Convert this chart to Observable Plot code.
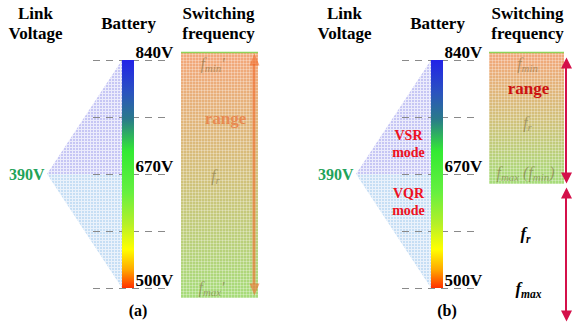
<!DOCTYPE html>
<html>
<head>
<meta charset="utf-8">
<script src="https://cdn.jsdelivr.net/npm/d3@7"></script>
<script src="https://cdn.jsdelivr.net/npm/@observablehq/plot@0.6"></script>
<style>
  body { margin: 0; background: #fff; }
  svg text, svg tspan { font-family: "Liberation Serif", "DejaVu Serif", serif !important; }
</style>
</head>
<body>
<div id="chart"></div>
<script>
// ---- values ---------------------------------------------------------------
const panels = ["(a)", "(b)"];
const headers = ["Link\nVoltage", "Battery", "Switching\nfrequency"];

const batteryMax = 840;            // V
const batteryMid = 670;            // V, boundary between VSR and VQR
const batteryMin = 500;            // V
const linkVoltage = 390;           // V
const gridLevels = [840, 755, 670, 585, 500];
const batteryLabels = [840, 670, 500];
const vsrSpan = [batteryMid, batteryMax];
const vqrSpan = [batteryMin, batteryMid];
const modeLabels = ["VSR\nmode", "VQR\nmode"];

// switching-frequency band (battery voltage it covers) for each panel
const freqTop = [840, 840];
const freqBottom = [500, 670];
const freqLabelsA = ["f_min′", "f_r", "f_max′"];
const freqLabelsB = ["f_min", "f_r", "f_max (f_min)"];
const freqLabelsOut = ["f_r", "f_max"];
const rangeLabel = "range";

// ---- layout (pixels within one panel) ------------------------------------
const L = {
  headerX: [35, 128, 218],
  linkLabelX: 44, apex: 47,
  gridLeft: 93, gridRight: 165,
  barLeft: 122, barRight: 134,
  voltLabelX: 135,
  boxLeft: {"(a)": 181, "(b)": 180},
  boxRight: {"(a)": 258, "(b)": 255},
  arrowX: {"(a)": 254, "(b)": 257},
  captionX: 137.5
};
const serif = "Liberation Serif, DejaVu Serif, serif";
const faint = {fill: "#6d5d2d", fillOpacity: 0.5, fontStyle: "italic", fontSize: 16};

const freqRows = panels.map((panel, i) => ({panel, top: freqTop[i], bottom: freqBottom[i]}));

// filled arrowhead, tip at the origin
const head = (dir, half, len) => ({
  draw(ctx) {
    ctx.moveTo(0, 0);
    ctx.lineTo(half, dir * len);
    ctx.lineTo(-half, dir * len);
    ctx.closePath();
  }
});

// double-headed vertical arrow between two battery levels
function arrow(panel, top, bottom, dyTop, dyBottom, color, opacity, w, half, len) {
  const row = [{panel, top, bottom}];
  const x = L.arrowX[panel];
  return [
    Plot.rect(row, {fx: "panel", x1: x - w / 2, x2: x + w / 2, y1: "bottom", y2: "top",
      insetTop: dyTop + len - 1, insetBottom: len - 1 - dyBottom, fill: color, fillOpacity: opacity}),
    Plot.dot(row, {fx: "panel", x, y: "top", dy: dyTop, r: 5, symbol: head(1, half, len),
      fill: color, fillOpacity: opacity, stroke: "none"}),
    Plot.dot(row, {fx: "panel", x, y: "bottom", dy: dyBottom, r: 5, symbol: head(-1, half, len),
      fill: color, fillOpacity: opacity, stroke: "none"})
  ];
}

// one text annotation inside a given panel
function note(panel, text, level, x, dy, opts) {
  return Plot.text([{panel, text, level}], {fx: "panel", x, y: "level", text: "text", dy,
    lineAnchor: "middle", fontFamily: serif, ...opts});
}

const wedgeX = d => d === batteryMid ? L.apex : L.barLeft;

const chart = Plot.plot({
  width: 573,
  height: 327,
  margin: 0,
  style: {background: "#fff", overflow: "visible"},
  fx: {domain: panels, range: [0, 573], paddingInner: 1 - 264 / 309, paddingOuter: 0, axis: null},
  x: {domain: [0, 264], range: [0, 264], axis: null},
  y: {domain: [batteryMin, batteryMax], range: [288, 60], axis: null},
  marks: [
    // link-voltage wedges fanning out to the battery range
    Plot.areaX(vsrSpan, {y: d => d, x1: wedgeX, x2: L.barLeft, fill: "url(#vsrFill)"}),
    Plot.areaX(vqrSpan, {y: d => d, x1: wedgeX, x2: L.barLeft, fill: "url(#vqrFill)"}),
    // dashed voltage divisions
    Plot.ruleY(gridLevels, {y: d => d, x1: L.gridLeft, x2: L.gridRight, stroke: "#8a8a8a",
      strokeWidth: 1, strokeDasharray: "7,6"}),
    // battery voltage bar
    Plot.rect([[batteryMin, batteryMax]], {x1: L.barLeft, x2: L.barRight, y1: d => d[0], y2: d => d[1],
      fill: "url(#batteryFill)"}),
    // switching-frequency band
    Plot.rect(freqRows, {fx: "panel", x1: d => L.boxLeft[d.panel], x2: d => L.boxRight[d.panel],
      y1: "bottom", y2: "top", insetTop: -8, insetBottom: -10, fill: "url(#freqFill)"}),
    Plot.rect(freqRows, {fx: "panel", x1: d => L.boxLeft[d.panel], x2: d => L.boxRight[d.panel],
      y1: "bottom", y2: "top", insetTop: -8, insetBottom: -10, fill: "url(#grain)"}),
    Plot.ruleY(freqRows, {fx: "panel", y: "top", dy: -8, x1: d => L.boxLeft[d.panel],
      x2: d => L.boxRight[d.panel], stroke: "#8ed45a", strokeWidth: 1.5}),

    // arrows
    ...arrow("(a)", 840, 500, -7, 7, "#f06a2a", 0.6, 3, 5, 12),
    ...arrow("(b)", 840, 670, -3, 9, "#d4104a", 1, 2, 5.5, 11),
    ...arrow("(b)", 670, 500, 13, 33, "#d4104a", 1, 2, 5.5, 11),

    // headers
    Plot.text(headers, {x: (d, i) => L.headerX[i], frameAnchor: "top", dy: 22.5, lineAnchor: "middle",
      lineHeight: 1.18, fontSize: 17, fontWeight: "bold", fontFamily: serif}),
    // battery voltage labels
    Plot.text(batteryLabels, {x: L.voltLabelX, y: d => d, text: d => `${d}V`, textAnchor: "start",
      lineAnchor: "middle", dy: -8, fontSize: 17, fontWeight: "bold", fontFamily: serif}),
    // link voltage label at the battery midpoint
    Plot.text([linkVoltage], {x: L.linkLabelX, y: batteryMid, text: d => `${d}V`, textAnchor: "end",
      lineAnchor: "middle", fontSize: 16, fontWeight: "bold", fill: "#1fa35a", fontFamily: serif}),
    // panel captions
    Plot.text(panels, {fx: d => d, x: L.captionX, frameAnchor: "bottom", dy: -17, lineAnchor: "middle",
      fontSize: 16, fontWeight: "bold", fontFamily: serif}),

    // panel (a) band labels
    note("(a)", freqLabelsA[0], 840, 212, 3, faint),
    note("(a)", freqLabelsA[1], 670, 215, 1, faint),
    note("(a)", freqLabelsA[2], 500, 211, -1, faint),
    note("(a)", rangeLabel, 755, 225, 1, {fill: "#e88a52", fontSize: 17, fontWeight: "bold"}),

    // panel (b) band labels
    note("(b)", freqLabelsB[0], 840, 218, 3, faint),
    note("(b)", freqLabelsB[1], 755, 218, 5, faint),
    note("(b)", freqLabelsB[2], 670, 216, -2, faint),
    note("(b)", rangeLabel, 840, 219, 28, {fill: "#cc1111", fontSize: 17, fontWeight: "bold"}),
    note("(b)", freqLabelsOut[0], 585, 216, 2, {fontSize: 17, fontWeight: "bold", fontStyle: "italic"}),
    note("(b)", freqLabelsOut[1], 500, 219, 0, {fontSize: 17, fontWeight: "bold", fontStyle: "italic"}),

    // operating modes
    note("(b)", modeLabels[0], 670, 99, -31, {fill: "#ee1122", fontSize: 14, fontWeight: "bold", lineHeight: 1.2}),
    note("(b)", modeLabels[1], 670, 99, 27, {fill: "#ee1122", fontSize: 14, fontWeight: "bold", lineHeight: 1.2})
  ]
});

document.getElementById("chart").append(chart);

// ---- gradients and fill patterns -----------------------------------------
const svgNode = chart.tagName.toLowerCase() === "svg" ? chart : chart.querySelector("svg");
const svg = d3.select(svgNode);
const defs = svg.insert("defs", ":first-child");

function vGradient(id, stops) {
  const g = defs.append("linearGradient").attr("id", id)
    .attr("x1", 0).attr("y1", 0).attr("x2", 0).attr("y2", 1);
  for (const [o, c] of stops) g.append("stop").attr("offset", o).attr("stop-color", c);
}
vGradient("batteryFill", [
  [0, "#2222e8"], [0.14, "#2a52c0"], [0.26, "#2a7a8a"], [0.4, "#33ea33"],
  [0.58, "#66f040"], [0.72, "#b6f028"], [0.83, "#ffff00"], [0.92, "#ffa800"], [1, "#ff3000"]
]);
vGradient("freqFill", [[0, "#f4a67a"], [0.5, "#d2c07a"], [1, "#a6dc7a"]]);

function texture(id, base, line, opacity) {
  const p = defs.append("pattern").attr("id", id).attr("patternUnits", "userSpaceOnUse")
    .attr("width", 3).attr("height", 3);
  if (base) p.append("rect").attr("width", 3).attr("height", 3).attr("fill", base);
  p.append("path").attr("d", "M0,0.5H3M0.5,0V3").attr("stroke", line)
    .attr("stroke-opacity", opacity).attr("stroke-width", 1);
}
texture("vsrFill", "#c6c6f4", "#ececfc", 1);
texture("vqrFill", "#c6def4", "#eaf2fb", 1);
texture("grain", null, "#ffffff", 0.28);

// subscripts: "f_max" -> f with "max" set as a subscript
svg.selectAll("text").each(function () {
  const s = this.textContent;
  if (!s.includes("_")) return;
  const size = parseFloat(getComputedStyle(this).fontSize) || 16;
  const shift = size * 0.22;
  const parts = s.split(/_([a-z]+)/);
  const t = d3.select(this);
  t.selectAll("*").remove();
  this.textContent = "";
  let lowered = false;
  parts.forEach((part, i) => {
    if (!part) return;
    const sub = i % 2 === 1;
    const span = t.append("tspan").text(part);
    if (sub) {
      span.attr("font-size", size * 0.68);
      if (!lowered) { span.attr("dy", shift); lowered = true; }
    } else if (lowered) {
      span.attr("dy", -shift);
      lowered = false;
    }
  });
});
</script>
</body>
</html>
